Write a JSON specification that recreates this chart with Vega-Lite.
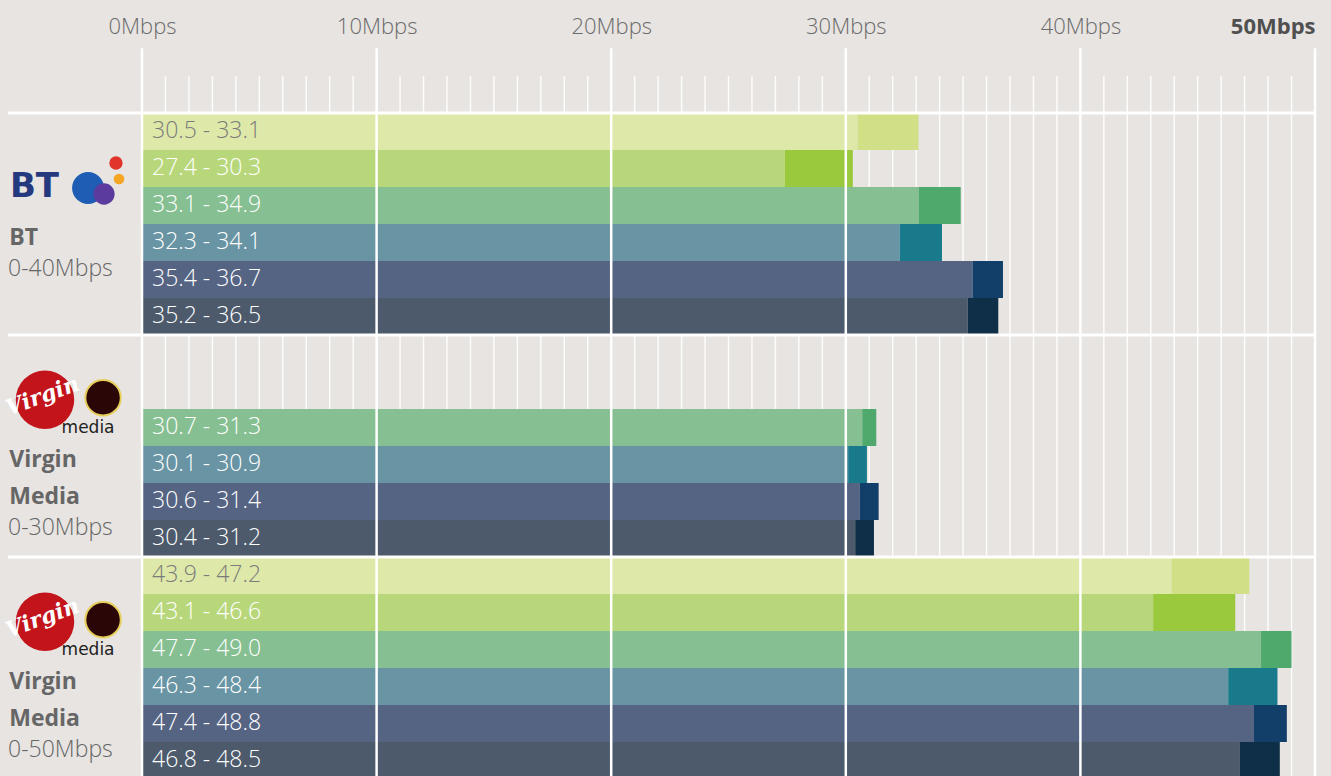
{
  "$schema": "https://vega.github.io/schema/vega-lite/v6.json",
  "width": 1331,
  "height": 776,
  "padding": 0,
  "autosize": "none",
  "background": "#e7e4e1",
  "config": {"view": {"stroke": null}, "font": "Open Sans"},
  "datasets": {
    "bars": [
      {"row": "bt1", "pos": 1, "lo": 30.5, "hi": 33.1, "label": "30.5 - 33.1"},
      {"row": "bt2", "pos": 2, "lo": 27.4, "hi": 30.3, "label": "27.4 - 30.3"},
      {"row": "bt3", "pos": 3, "lo": 33.1, "hi": 34.9, "label": "33.1 - 34.9"},
      {"row": "bt4", "pos": 4, "lo": 32.3, "hi": 34.1, "label": "32.3 - 34.1"},
      {"row": "bt5", "pos": 5, "lo": 35.4, "hi": 36.7, "label": "35.4 - 36.7"},
      {"row": "bt6", "pos": 6, "lo": 35.2, "hi": 36.5, "label": "35.2 - 36.5"},
      {"row": "vm30_3", "pos": 3, "lo": 30.7, "hi": 31.3, "label": "30.7 - 31.3"},
      {"row": "vm30_4", "pos": 4, "lo": 30.1, "hi": 30.9, "label": "30.1 - 30.9"},
      {"row": "vm30_5", "pos": 5, "lo": 30.6, "hi": 31.4, "label": "30.6 - 31.4"},
      {"row": "vm30_6", "pos": 6, "lo": 30.4, "hi": 31.2, "label": "30.4 - 31.2"},
      {"row": "vm50_1", "pos": 1, "lo": 43.9, "hi": 47.2, "label": "43.9 - 47.2"},
      {"row": "vm50_2", "pos": 2, "lo": 43.1, "hi": 46.6, "label": "43.1 - 46.6"},
      {"row": "vm50_3", "pos": 3, "lo": 47.7, "hi": 49.0, "label": "47.7 - 49.0"},
      {"row": "vm50_4", "pos": 4, "lo": 46.3, "hi": 48.4, "label": "46.3 - 48.4"},
      {"row": "vm50_5", "pos": 5, "lo": 47.4, "hi": 48.8, "label": "47.4 - 48.8"},
      {"row": "vm50_6", "pos": 6, "lo": 46.8, "hi": 48.5, "label": "46.8 - 48.5"}
    ],
    "minor": [
      {"v": 1}, {"v": 2}, {"v": 3}, {"v": 4}, {"v": 5}, {"v": 6}, {"v": 7}, {"v": 8}, {"v": 9},
      {"v": 11}, {"v": 12}, {"v": 13}, {"v": 14}, {"v": 15}, {"v": 16}, {"v": 17}, {"v": 18}, {"v": 19},
      {"v": 21}, {"v": 22}, {"v": 23}, {"v": 24}, {"v": 25}, {"v": 26}, {"v": 27}, {"v": 28}, {"v": 29},
      {"v": 31}, {"v": 32}, {"v": 33}, {"v": 34}, {"v": 35}, {"v": 36}, {"v": 37}, {"v": 38}, {"v": 39},
      {"v": 41}, {"v": 42}, {"v": 43}, {"v": 44}, {"v": 45}, {"v": 46}, {"v": 47}, {"v": 48}, {"v": 49}
    ],
    "major": [{"v": 0}, {"v": 10}, {"v": 20}, {"v": 30}, {"v": 40}, {"v": 50}],
    "groups": [
      {"row": "bt1", "range_row": "bt5", "range": "0-40Mbps"},
      {"row": "vm30_1", "range_row": "vm30_6", "range": "0-30Mbps"},
      {"row": "vm50_1", "range_row": "vm50_6", "range": "0-50Mbps"}
    ],
    "names": [
      {"row": "bt4", "t": "BT"},
      {"row": "vm30_4", "t": "Virgin"},
      {"row": "vm30_5", "t": "Media"},
      {"row": "vm50_4", "t": "Virgin"},
      {"row": "vm50_5", "t": "Media"}
    ],
    "vmlogo": [{"row": "vm30_2"}, {"row": "vm50_2"}],
    "btlogo": [{"row": "bt3"}]
  },
  "layer": [
    {
      "data": {"name": "minor"},
      "mark": {"type": "rule", "stroke": "#ffffff", "strokeWidth": 1.5, "opacity": 0.9},
      "encoding": {
        "x": {
          "field": "v", "type": "quantitative", "title": null,
          "scale": {"domain": [-6.053, 50.682], "nice": false, "zero": false},
          "axis": {
            "orient": "top", "values": [0, 10, 20, 30, 40, 50],
            "labelExpr": "datum.value + 'Mbps'",
            "domain": false, "ticks": false, "tickSize": 0, "grid": false,
            "offset": -38, "labelPadding": 5, "labelBaseline": "alphabetic",
            "labelFont": "Open Sans", "labelFontSize": 22,
            "labelColor": {"condition": {"test": "datum.value === 50", "value": "#505050"}, "value": "#6b6b6b"},
            "labelFontWeight": {"condition": {"test": "datum.value === 50", "value": "bold"}, "value": 300},
            "labelAlign": {"condition": {"test": "datum.value === 50", "value": "right"}, "value": "center"},
            "labelOverlap": false, "labelFlush": false
          }
        },
        "y": {
          "datum": "H3", "type": "nominal", "bandPosition": 0, "axis": null,
          "scale": {
            "domain": ["H1", "H2", "H3", "bt1", "bt2", "bt3", "bt4", "bt5", "bt6",
              "vm30_1", "vm30_2", "vm30_3", "vm30_4", "vm30_5", "vm30_6",
              "vm50_1", "vm50_2", "vm50_3", "vm50_4", "vm50_5", "vm50_6"],
            "range": [0, 779],
            "paddingInner": 0, "paddingOuter": 0.027, "align": 1
          }
        },
        "y2": {"datum": "vm50_6", "bandPosition": 1}
      }
    },
    {
      "data": {"name": "bars"},
      "mark": {"type": "bar"},
      "encoding": {
        "x": {"field": "lo", "type": "quantitative", "title": null},
        "x2": {"datum": 0},
        "y": {"field": "row", "type": "nominal", "axis": null},
        "color": {
          "field": "pos", "type": "ordinal", "legend": null,
          "scale": {"domain": [1, 2, 3, 4, 5, 6], "range": ["#dee8a8", "#b8d77a", "#86bf91", "#6894a4", "#566484", "#4c5a6c"]}
        }
      }
    },
    {
      "data": {"name": "bars"},
      "mark": {"type": "bar"},
      "encoding": {
        "x": {"field": "lo", "type": "quantitative", "title": null},
        "x2": {"field": "hi"},
        "y": {"field": "row", "type": "nominal", "axis": null},
        "fill": {
          "field": "pos", "type": "ordinal", "legend": null,
          "scale": {"domain": [1, 2, 3, 4, 5, 6], "range": ["#d1e086", "#9bc93d", "#50a96c", "#187a8b", "#123f69", "#0e2f47"]}
        }
      }
    },
    {
      "data": {"name": "major"},
      "mark": {"type": "rule", "stroke": "#ffffff", "strokeWidth": 2.5},
      "encoding": {
        "x": {"field": "v", "type": "quantitative", "title": null},
        "y": {"datum": "H2", "type": "nominal", "bandPosition": 0.25, "axis": null},
        "y2": {"datum": "vm50_6", "bandPosition": 1}
      }
    },
    {
      "data": {"name": "groups"},
      "mark": {"type": "rule", "stroke": "#ffffff", "strokeWidth": 3},
      "encoding": {
        "x": {"datum": -5.71, "type": "quantitative", "title": null},
        "x2": {"datum": 50},
        "y": {"field": "row", "type": "nominal", "bandPosition": 0, "axis": null}
      }
    },
    {
      "data": {"name": "bars"},
      "mark": {"type": "text", "align": "left", "baseline": "middle", "dx": 10, "fontSize": 23, "font": "Open Sans", "fontWeight": 300},
      "encoding": {
        "x": {"datum": 0, "type": "quantitative", "title": null},
        "y": {"field": "row", "type": "nominal", "axis": null},
        "text": {"field": "label"},
        "color": {"condition": {"test": "datum.pos === 1", "value": "#7b7b7b"}, "value": "#ffffff"}
      }
    },
    {
      "data": {"name": "names"},
      "mark": {"type": "text", "align": "left", "baseline": "middle", "dy": -4, "fontSize": 23, "font": "Open Sans", "fontWeight": "bold", "color": "#666666"},
      "encoding": {
        "x": {"datum": -5.66, "type": "quantitative", "title": null},
        "y": {"field": "row", "type": "nominal", "axis": null},
        "text": {"field": "t"}
      }
    },
    {
      "data": {"name": "groups"},
      "mark": {"type": "text", "align": "left", "baseline": "middle", "dy": -10, "fontSize": 23, "font": "Open Sans", "fontWeight": 300, "color": "#666666"},
      "encoding": {
        "x": {"datum": -5.71, "type": "quantitative", "title": null},
        "y": {"field": "range_row", "type": "nominal", "axis": null},
        "text": {"field": "range"}
      }
    },
    {
      "data": {"name": "btlogo"},
      "mark": {"type": "text", "align": "left", "baseline": "middle", "fontSize": 34, "font": "DejaVu Sans", "fontWeight": "bold", "color": "#25397f"},
      "encoding": {
        "x": {"datum": -5.63, "type": "quantitative", "title": null},
        "y": {"field": "row", "type": "nominal", "bandPosition": 0, "axis": null},
        "text": {"value": "BT"}
      }
    },
    {
      "data": {"name": "btlogo"},
      "mark": {"type": "point", "shape": "circle", "filled": true, "opacity": 1, "size": 1018, "color": "#1f5db5", "yOffset": 1},
      "encoding": {
        "x": {"datum": -2.30, "type": "quantitative", "title": null},
        "y": {"field": "row", "type": "nominal", "bandPosition": 0, "axis": null}
      }
    },
    {
      "data": {"name": "btlogo"},
      "mark": {"type": "point", "shape": "circle", "filled": true, "opacity": 1, "size": 452, "color": "#5b3c9e", "yOffset": 7},
      "encoding": {
        "x": {"datum": -1.62, "type": "quantitative", "title": null},
        "y": {"field": "row", "type": "nominal", "bandPosition": 0, "axis": null}
      }
    },
    {
      "data": {"name": "btlogo"},
      "mark": {"type": "point", "shape": "circle", "filled": true, "opacity": 1, "size": 177, "color": "#e1342a", "yOffset": -24},
      "encoding": {
        "x": {"datum": -1.11, "type": "quantitative", "title": null},
        "y": {"field": "row", "type": "nominal", "bandPosition": 0, "axis": null}
      }
    },
    {
      "data": {"name": "btlogo"},
      "mark": {"type": "point", "shape": "circle", "filled": true, "opacity": 1, "size": 113, "color": "#f5a524", "yOffset": -8},
      "encoding": {
        "x": {"datum": -0.98, "type": "quantitative", "title": null},
        "y": {"field": "row", "type": "nominal", "bandPosition": 0, "axis": null}
      }
    },
    {
      "data": {"name": "vmlogo"},
      "mark": {"type": "point", "shape": "circle", "filled": true, "opacity": 1, "size": 1257, "color": "#2a0606", "stroke": "#e6cf5c", "strokeWidth": 2, "yOffset": -2},
      "encoding": {
        "x": {"datum": -1.66, "type": "quantitative", "title": null},
        "y": {"field": "row", "type": "nominal", "bandPosition": 0.75, "axis": null}
      }
    },
    {
      "data": {"name": "vmlogo"},
      "mark": {"type": "point", "shape": "circle", "filled": true, "opacity": 1, "size": 3421, "color": "#c3141b"},
      "encoding": {
        "x": {"datum": -4.135, "type": "quantitative", "title": null},
        "y": {"field": "row", "type": "nominal", "bandPosition": 0.75, "axis": null}
      }
    },
    {
      "data": {"name": "vmlogo"},
      "mark": {"type": "text", "align": "center", "baseline": "middle", "dy": -4, "angle": -20, "fontSize": 22, "font": "DejaVu Serif", "fontStyle": "italic", "fontWeight": "bold", "color": "#ffffff"},
      "encoding": {
        "x": {"datum": -4.18, "type": "quantitative", "title": null},
        "y": {"field": "row", "type": "nominal", "bandPosition": 0.75, "axis": null},
        "text": {"value": "Virgin"}
      }
    },
    {
      "data": {"name": "vmlogo"},
      "mark": {"type": "text", "align": "center", "baseline": "middle", "dy": 28, "fontSize": 17, "font": "DejaVu Sans", "color": "#222222"},
      "encoding": {
        "x": {"datum": -2.30, "type": "quantitative", "title": null},
        "y": {"field": "row", "type": "nominal", "bandPosition": 0.75, "axis": null},
        "text": {"value": "media"}
      }
    }
  ],
  "resolve": {"scale": {"color": "independent", "fill": "independent"}}
}
